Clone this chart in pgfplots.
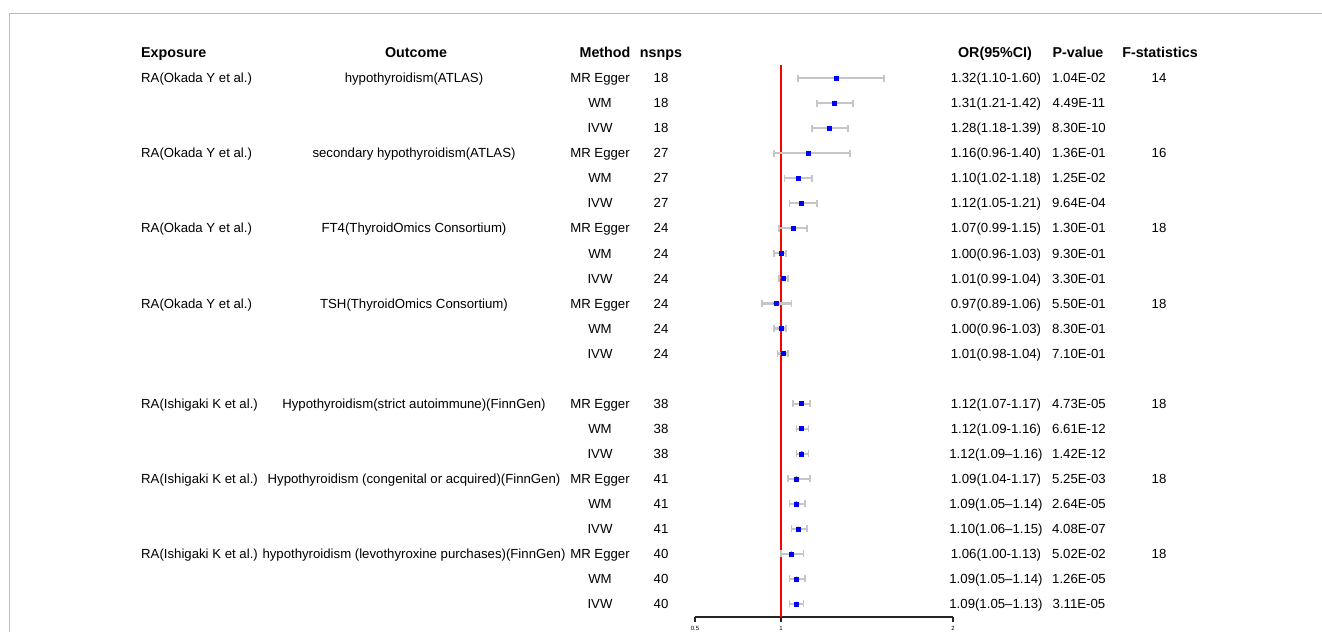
\documentclass[border=0pt]{standalone}
\usepackage{fontspec}
\setmainfont{Liberation Sans}
\usepackage{pgfplots}
\pgfplotsset{compat=1.18}
\usepackage{pgfplotstable}
\pgfplotstableread{
row or em ep
1 1.32 0.22 0.28
2 1.31 0.10 0.11
3 1.28 0.10 0.11
4 1.16 0.20 0.24
5 1.10 0.08 0.08
6 1.12 0.07 0.09
7 1.07 0.08 0.08
8 1.00 0.04 0.03
9 1.01 0.02 0.03
10 0.97 0.08 0.09
11 1.00 0.04 0.03
12 1.01 0.03 0.03
14 1.12 0.05 0.05
15 1.12 0.03 0.04
16 1.12 0.03 0.04
17 1.09 0.05 0.08
18 1.09 0.04 0.05
19 1.10 0.04 0.05
20 1.06 0.06 0.07
21 1.09 0.04 0.05
22 1.09 0.04 0.04
}\mydata
\newcommand{\hd}{\fontsize{14.3}{16}\selectfont\bfseries}
\begin{document}
\begin{tikzpicture}
\path[use as bounding box] (0,0) rectangle (1322pt,632pt);
\begin{axis}[at={(695pt,15pt)}, anchor=south west, scale only axis,
  width=258pt, height=552pt,
  xmin=0.5, xmax=2, ymin=0.48, ymax=22.52, y dir=reverse,
  axis x line=bottom, axis y line=none,
  x axis line style={-, line width=1.1pt, black!85},
  xtick={0.5,1,2}, xticklabels={0.5,1,2},
  tick align=outside, major tick length=4.5pt,
  tick style={line width=1.1pt, black!85},
  ytick=\empty,
  x tick label style={font=\fontsize{6}{7}\selectfont, yshift=-1pt},
  clip=false]
\addplot[red, line width=2pt] coordinates {(1,0.48) (1,22.52)};
\addplot[only marks, mark=none, forget plot,
  error bars/.cd, x dir=both, x explicit, error mark=|,
  error bar style={line width=2.2pt, color=gray!45},
  error mark options={line width=1.6pt, mark size=3.5pt, color=gray!45}]
  table[x=or, y=row, x error plus=ep, x error minus=em]{\mydata};
\addplot[only marks, mark=square*, mark size=2pt, color=blue]
  table[x=or, y=row]{\mydata};
\end{axis}
\begin{scope}[x=1pt, y=-1pt, yshift=632pt,
  every node/.style={font=\fontsize{13.2}{15}\selectfont, inner sep=0pt}]
\draw[gray!55, line width=1pt] (9,632) -- (9,13.5) -- (1322,13.5);
\node[anchor=base west] at (141,58) {\hd Exposure};
\node[anchor=base] at (416,58) {\hd Outcome};
\node[anchor=base] at (605,58) {\hd Method};
\node[anchor=base] at (661,58) {\hd nsnps};
\node[anchor=base] at (995,58) {\hd OR(95\%CI)};
\node[anchor=base] at (1078,58) {\hd P-value};
\node[anchor=base] at (1160,58) {\hd F-statistics};
\foreach \i/\t in {1/RA(Okada Y et al.), 4/RA(Okada Y et al.), 7/RA(Okada Y et al.), 10/RA(Okada Y et al.), 14/RA(Ishigaki K et al.), 17/RA(Ishigaki K et al.), 20/RA(Ishigaki K et al.)}{
  \pgfmathsetmacro\yy{78+25.05*(\i-1)+4.7}
  \node[anchor=base west] at (141,\yy) {\t};
}
\foreach \i/\t in {1/hypothyroidism(ATLAS), 4/secondary hypothyroidism(ATLAS), 7/FT4(ThyroidOmics Consortium), 10/TSH(ThyroidOmics Consortium), 14/Hypothyroidism(strict autoimmune)(FinnGen), 17/Hypothyroidism (congenital or acquired)(FinnGen), 20/hypothyroidism (levothyroxine purchases)(FinnGen)}{
  \pgfmathsetmacro\yy{78+25.05*(\i-1)+4.7}
  \node[anchor=base] at (414,\yy) {\t};
}
\foreach \i/\t in {1/14, 4/16, 7/18, 10/18, 14/18, 17/18, 20/18}{
  \pgfmathsetmacro\yy{78+25.05*(\i-1)+4.7}
  \node[anchor=base] at (1159,\yy) {\t};
}
\foreach \i/\m/\n/\o/\p in {
1/MR Egger/18/1.32(1.10-1.60)/1.04E-02,
2/WM/18/1.31(1.21-1.42)/4.49E-11,
3/IVW/18/1.28(1.18-1.39)/8.30E-10,
4/MR Egger/27/1.16(0.96-1.40)/1.36E-01,
5/WM/27/1.10(1.02-1.18)/1.25E-02,
6/IVW/27/1.12(1.05-1.21)/9.64E-04,
7/MR Egger/24/1.07(0.99-1.15)/1.30E-01,
8/WM/24/1.00(0.96-1.03)/9.30E-01,
9/IVW/24/1.01(0.99-1.04)/3.30E-01,
10/MR Egger/24/0.97(0.89-1.06)/5.50E-01,
11/WM/24/1.00(0.96-1.03)/8.30E-01,
12/IVW/24/1.01(0.98-1.04)/7.10E-01,
14/MR Egger/38/1.12(1.07-1.17)/4.73E-05,
15/WM/38/1.12(1.09-1.16)/6.61E-12,
16/IVW/38/1.12(1.09–1.16)/1.42E-12,
17/MR Egger/41/1.09(1.04-1.17)/5.25E-03,
18/WM/41/1.09(1.05–1.14)/2.64E-05,
19/IVW/41/1.10(1.06–1.15)/4.08E-07,
20/MR Egger/40/1.06(1.00-1.13)/5.02E-02,
21/WM/40/1.09(1.05–1.14)/1.26E-05,
22/IVW/40/1.09(1.05–1.13)/3.11E-05}{
  \pgfmathsetmacro\yy{78+25.05*(\i-1)+4.7}
  \node[anchor=base] at (600,\yy) {\m};
  \node[anchor=base] at (661,\yy) {\n};
  \node[anchor=base] at (996,\yy) {\o};
  \node[anchor=base] at (1079,\yy) {\p};
}
\end{scope}
\end{tikzpicture}
\end{document}
